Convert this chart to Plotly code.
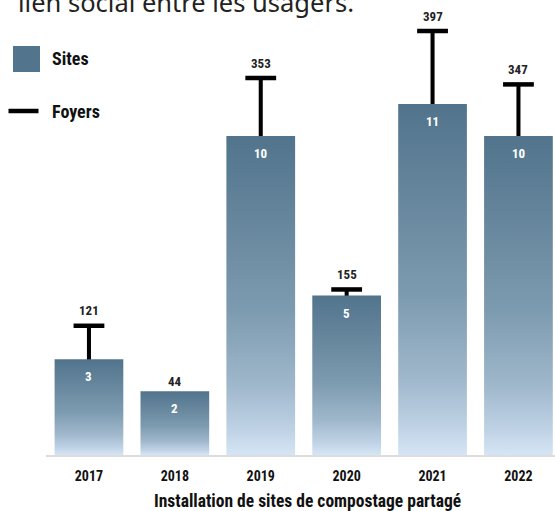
import plotly.graph_objects as go

# ---- data ----
years = ["2017", "2018", "2019", "2020", "2021", "2022"]
sites = [3, 2, 10, 5, 11, 10]
foyers = [121, 44, 353, 155, 397, 347]

# ---- layout geometry (pixels) ----
W, H = 555, 511
L, R, T, B = 46, 0, 20, 56
PW, PH = W - L - R, H - T - B
PX_PER_CAT = 85.9
PX_PER_SITE = 31.9
PX_PER_FOYER = 1.068
x_range = [-0.5, -0.5 + PW / PX_PER_CAT]
y_sites_range = [0, PH / PX_PER_SITE]
y_foyers_range = [0, PH / PX_PER_FOYER]
ratio = PX_PER_SITE / PX_PER_FOYER  # foyers units per site


def pxx(p):
    return (p - L) / PW


def pxy(p):
    return (H - B - p) / PH


NARROW = "Roboto Condensed, Liberation Sans, sans-serif"
BAR_W = 0.8
grad = [[0.0, "#d5e5f5"], [0.08, "#bfd2e5"], [0.22, "#9fb7cb"], [0.45, "#7d9bb0"],
        [0.75, "#65859c"], [1.0, "#51748c"]]

fig = go.Figure()

# Foyers: thin vertical stems + caps (on primary y, drawn beneath site bars)
fig.add_trace(go.Bar(
    x=list(range(len(years))), y=foyers, width=0.047,
    marker=dict(color="#000000", line=dict(width=0)),
    yaxis="y", showlegend=False, name="Foyers", hoverinfo="skip"))
fig.add_trace(go.Scatter(
    x=list(range(len(years))), y=foyers, mode="markers",
    marker=dict(symbol="line-ew", size=22, line=dict(width=4.5, color="#000000")),
    yaxis="y", showlegend=False, name="Foyers", hoverinfo="skip"))

# Sites: gradient-filled bars (on overlaying y2)
for i, s in enumerate(sites):
    fig.add_trace(go.Scatter(
        x=[i - BAR_W / 2, i - BAR_W / 2, i + BAR_W / 2, i + BAR_W / 2, i - BAR_W / 2],
        y=[0, s, s, 0, 0],
        mode="lines", line=dict(width=0), fill="toself",
        fillgradient=dict(type="vertical", colorscale=grad),
        yaxis="y2", showlegend=False, name="Sites", hoverinfo="skip"))

annotations = []
# site value labels (white, inside top of bar)
for i, s in enumerate(sites):
    annotations.append(dict(
        x=i, y=s, xref="x", yref="y2", text=str(s), showarrow=False,
        yshift=-17.5, font=dict(family=NARROW, size=13, color="#ffffff", weight="bold")))
# foyers value labels (above cap, or above bar if cap hidden)
for i, (s, f) in enumerate(zip(sites, foyers)):
    if f >= s * ratio:
        y, sh = f, 15
    else:
        y, sh = s * ratio, 10
    annotations.append(dict(
        x=i, y=y, xref="x", yref="y", text=str(f), showarrow=False,
        yshift=sh, font=dict(family=NARROW, size=13, color="#222222", weight="bold")))

# axis title
annotations.append(dict(
    x=pxx(307), y=pxy(501), xref="paper", yref="paper",
    text="Installation de sites de compostage partagé", showarrow=False,
    xanchor="center", yanchor="middle",
    font=dict(family=NARROW, size=17.5, color="#111111", weight="bold")))
# legend texts
annotations.append(dict(
    x=pxx(50), y=pxy(58), xref="paper", yref="paper", text="Sites",
    showarrow=False, xanchor="left", yanchor="middle",
    font=dict(family=NARROW, size=18, color="#111111", weight="bold")))
annotations.append(dict(
    x=pxx(50), y=pxy(111), xref="paper", yref="paper", text="Foyers",
    showarrow=False, xanchor="left", yanchor="middle",
    font=dict(family=NARROW, size=18, color="#111111", weight="bold")))
# cut-off paragraph text at top
annotations.append(dict(
    x=pxx(16), y=pxy(21), xref="paper", yref="paper",
    text="lien social entre les usagers.", showarrow=False,
    xanchor="left", yanchor="bottom",
    font=dict(family="Noto Sans, Open Sans, sans-serif", size=25.5, color="#222222")))

shapes = [
    dict(type="rect", xref="paper", yref="paper",
         x0=pxx(13), x1=pxx(40), y0=pxy(72), y1=pxy(46),
         fillcolor="#52758d", line=dict(width=0)),
    dict(type="line", xref="paper", yref="paper",
         x0=pxx(8.5), x1=pxx(38.5), y0=pxy(111), y1=pxy(111),
         line=dict(color="#000000", width=4.5)),
]

fig.update_layout(
    width=W, height=H,
    margin=dict(l=L, r=R, t=T, b=B, pad=0),
    paper_bgcolor="#ffffff", plot_bgcolor="#ffffff",
    showlegend=False,
    barmode="overlay",
    xaxis=dict(range=x_range, tickmode="array", tickvals=list(range(len(years))),
               ticktext=years, showgrid=False, zeroline=False,
               showline=True, linecolor="#dddddd", linewidth=1.5,
               ticks="outside", ticklen=7, tickcolor="rgba(0,0,0,0)",
               tickfont=dict(family=NARROW, size=14, color="#111111", weight="bold"),
               fixedrange=True),
    yaxis=dict(range=y_foyers_range, visible=False, showgrid=False, zeroline=False,
               fixedrange=True),
    yaxis2=dict(range=y_sites_range, overlaying="y", visible=False, showgrid=False,
                zeroline=False, fixedrange=True),
    annotations=annotations,
    shapes=shapes,
)

fig.write_html("out.html", config={"displayModeBar": False},
               post_script="document.body.style.margin='0';document.body.style.overflow='hidden';")
